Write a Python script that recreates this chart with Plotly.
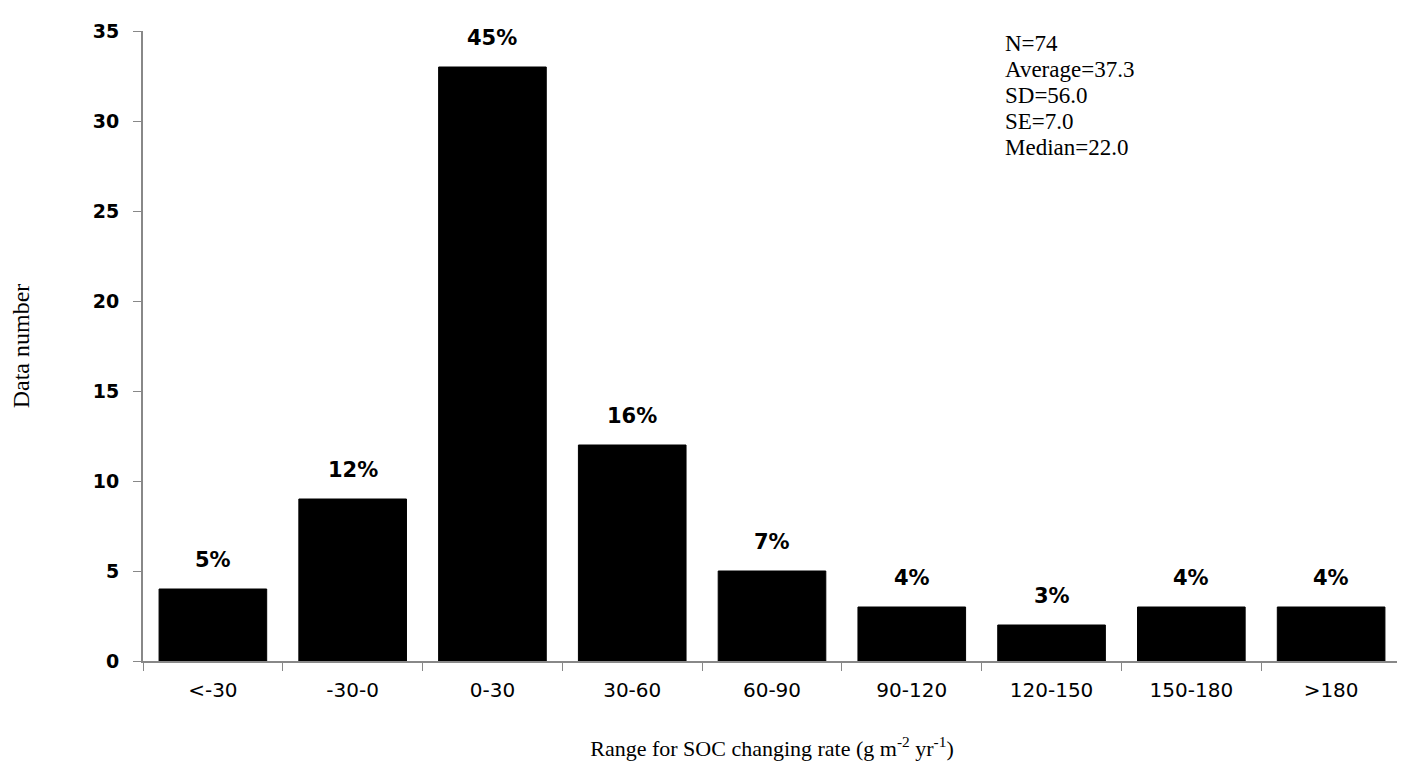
import plotly.graph_objects as go

categories = ["<-30", "-30-0", "0-30", "30-60", "60-90", "90-120", "120-150", "150-180", ">180"]
counts = [4, 9, 33, 12, 5, 3, 2, 3, 3]
percent_labels = ["5%", "12%", "45%", "16%", "7%", "4%", "3%", "4%", "4%"]
stats_lines = ["N=74", "Average=37.3", "SD=56.0", "SE=7.0", "Median=22.0"]
y_ticks = [0, 5, 10, 15, 20, 25, 30, 35]

fig = go.Figure()
fig.add_trace(go.Bar(
    x=categories, y=counts,
    marker=dict(color="black", line=dict(color="black", width=1)),
    showlegend=False,
))

for c, v, t in zip(categories, counts, percent_labels):
    fig.add_annotation(x=c, y=v, text=t, showarrow=False, yanchor="bottom",
                       yshift=15, font=dict(family="DejaVu Sans", size=21, color="black", weight="bold"))

for i, line in enumerate(stats_lines):
    fig.add_annotation(xref="paper", yref="paper", x=0.684, y=1.0, yshift=2 - 26 * i,
                       xanchor="left", yanchor="top", align="left", showarrow=False, text=line,
                       font=dict(family="Liberation Serif", size=23, color="black"))

fig.update_layout(
    width=1405, height=776,
    margin=dict(l=133, r=12, t=14, b=123),
    paper_bgcolor="white", plot_bgcolor="white",
    bargap=0.23,
    font=dict(color="black"),
    xaxis=dict(
        type="category", tickson="boundaries", ticks="outside", ticklen=8, tickcolor="#888",
        showline=True, linecolor="#888", linewidth=2, showgrid=False,
        tickfont=dict(family="DejaVu Sans", size=20, color="black"),
        ticklabelstandoff=10,
        title=dict(text="Range for SOC changing rate (g m<sup>-2</sup> yr<sup>-1</sup>)",
                   font=dict(family="Liberation Serif", size=22, color="black"), standoff=40),
    ),
    yaxis=dict(
        range=[0, 35], tickvals=y_ticks, ticks="outside", ticklen=8, tickcolor="#888",
        showline=True, linecolor="#888", linewidth=2, showgrid=False, zeroline=False,
        tickfont=dict(family="DejaVu Sans", size=19, color="black", weight="bold"),
        ticklabelstandoff=10,
        title=dict(text="Data number", font=dict(family="Liberation Serif", size=24, color="black"), standoff=56),
    ),
)

fig.write_html("out.html")
